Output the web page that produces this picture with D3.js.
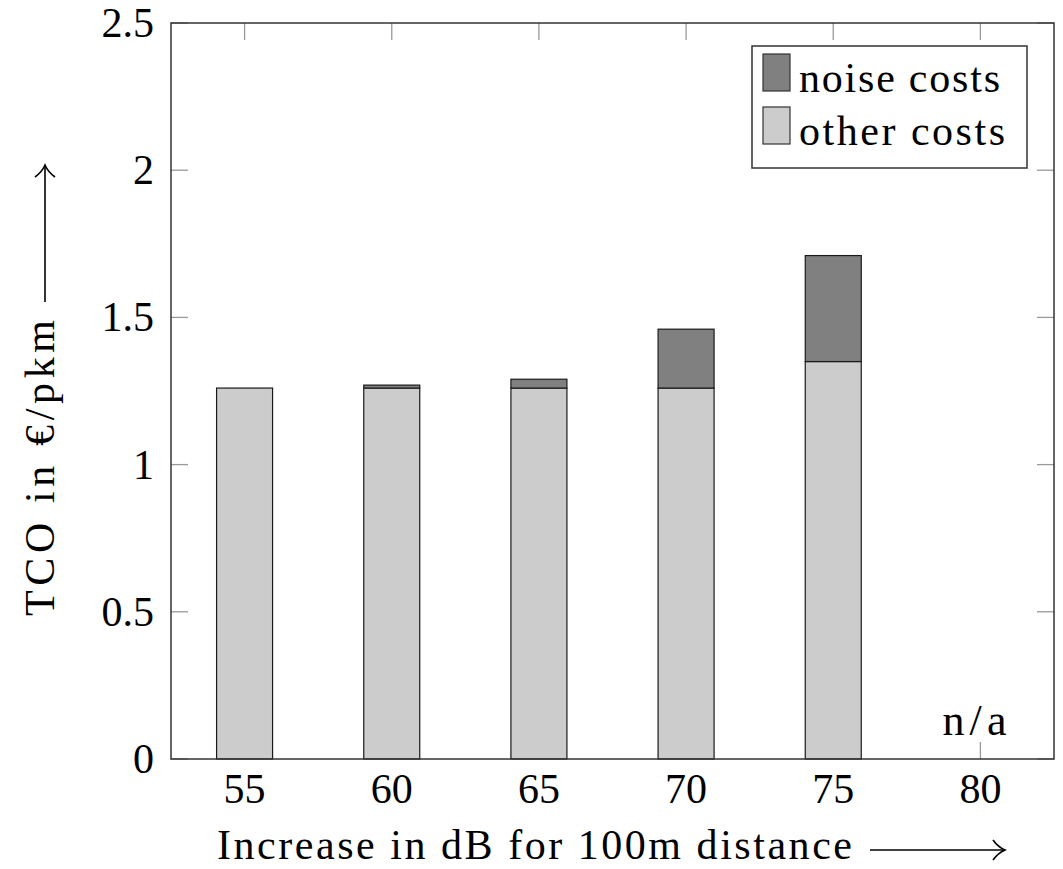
<!DOCTYPE html>
<html lang="en">
    <head>
        <meta charset="utf-8">
        <title>TCO noise costs</title>
        <style>
            body {
                margin: 0;
                background-color: white;
            }
            svg {
                display: block;
                font-family: "Liberation Serif", "DejaVu Serif", serif;
            }
        </style>
        <script src="https://d3js.org/d3.v7.min.js"></script>
    </head>
    <body></body>
    <script>

        // data
        let categories = [55, 60, 65, 70, 75, 80]
        let otherCosts = [1.26, 1.26, 1.26, 1.26, 1.35, null]
        let noiseCosts = [0, 0.01, 0.03, 0.2, 0.36, null]
        let yTicks = [0, 0.5, 1, 1.5, 2, 2.5]

        let width = 1063
        let height = 869
        let plotLeft = 171
        let plotRight = 1054
        let plotTop = 23
        let plotBottom = 759
        let barWidth = 56
        let fontSize = 42

        let svg = d3.select("body")
            .append("svg")
            .attr("width", width)
            .attr("height", height)

        let xScale = d3.scaleLinear()
            .domain([52.5, 82.5])
            .range([plotLeft, plotRight])

        let yScale = d3.scaleLinear()
            .domain([0, 2.5])
            .range([plotBottom, plotTop])

        // inward ticks on all four sides
        let tickLen = 17
        let ticks = svg.append("g")
            .attr("stroke", "#999")
            .attr("stroke-width", 1.3)

        ticks.selectAll("line.xb")
            .data(categories)
            .enter()
            .append("line")
            .attr("x1", (d) => xScale(d))
            .attr("x2", (d) => xScale(d))
            .attr("y1", plotBottom)
            .attr("y2", plotBottom - tickLen)

        ticks.selectAll("line.xt")
            .data(categories)
            .enter()
            .append("line")
            .attr("x1", (d) => xScale(d))
            .attr("x2", (d) => xScale(d))
            .attr("y1", plotTop)
            .attr("y2", plotTop + tickLen)

        ticks.selectAll("line.yl")
            .data(yTicks)
            .enter()
            .append("line")
            .attr("x1", plotLeft)
            .attr("x2", plotLeft + tickLen)
            .attr("y1", (d) => yScale(d))
            .attr("y2", (d) => yScale(d))

        ticks.selectAll("line.yr")
            .data(yTicks)
            .enter()
            .append("line")
            .attr("x1", plotRight)
            .attr("x2", plotRight - tickLen)
            .attr("y1", (d) => yScale(d))
            .attr("y2", (d) => yScale(d))

        // bars, drawn over the ticks
        let rows = categories.map((c, i) => ({cat: c, other: otherCosts[i], noise: noiseCosts[i]}))
            .filter((d) => d.other !== null)

        svg.selectAll("rect.other")
            .data(rows)
            .enter()
            .append("rect")
            .attr("class", "other")
            .attr("x", (d) => xScale(d.cat) - barWidth / 2)
            .attr("y", (d) => yScale(d.other))
            .attr("width", barWidth)
            .attr("height", (d) => yScale(0) - yScale(d.other))
            .attr("fill", "#cccccc")
            .attr("stroke", "#1a1a1a")
            .attr("stroke-width", 1.2)

        svg.selectAll("rect.noise")
            .data(rows.filter((d) => d.noise > 0))
            .enter()
            .append("rect")
            .attr("class", "noise")
            .attr("x", (d) => xScale(d.cat) - barWidth / 2)
            .attr("y", (d) => yScale(d.other + d.noise))
            .attr("width", barWidth)
            .attr("height", (d) => yScale(d.other) - yScale(d.other + d.noise))
            .attr("fill", "#808080")
            .attr("stroke", "#1a1a1a")
            .attr("stroke-width", 1.2)

        // frame
        svg.append("rect")
            .attr("x", plotLeft)
            .attr("y", plotTop)
            .attr("width", plotRight - plotLeft)
            .attr("height", plotBottom - plotTop)
            .attr("fill", "none")
            .attr("stroke", "#333")
            .attr("stroke-width", 1.5)

        // tick labels
        svg.selectAll("text.xtick")
            .data(categories)
            .enter()
            .append("text")
            .attr("class", "xtick")
            .attr("x", (d) => xScale(d))
            .attr("y", 803)
            .attr("text-anchor", "middle")
            .attr("font-size", fontSize)
            .text((d) => d)

        svg.selectAll("text.ytick")
            .data(yTicks)
            .enter()
            .append("text")
            .attr("class", "ytick")
            .attr("x", 154)
            .attr("y", (d) => yScale(d) + 14)
            .attr("text-anchor", "end")
            .attr("font-size", fontSize)
            .text((d) => d)

        // n/a label for 80
        svg.append("text")
            .attr("x", xScale(80) - 6)
            .attr("y", 735)
            .attr("text-anchor", "middle")
            .attr("font-size", 44)
            .attr("textLength", 64)
            .text("n/a")

        // axis titles with long arrows
        svg.append("text")
            .attr("x", 217)
            .attr("y", 859)
            .attr("font-size", fontSize)
            .attr("textLength", 635)
            .text("Increase in dB for 100m distance")

        let arrow = (g, x1, y1, x2, y2) => {
            g.append("line")
                .attr("x1", x1).attr("y1", y1)
                .attr("x2", x2).attr("y2", y2)
                .attr("stroke", "black")
                .attr("stroke-width", 1.6)
        }

        let xArrow = svg.append("g")
        arrow(xArrow, 870, 850, 1005, 850)
        xArrow.append("path")
            .attr("d", "M993,840 Q998,847 1005,850 Q998,853 993,860")
            .attr("fill", "none")
            .attr("stroke", "black")
            .attr("stroke-width", 1.6)

        svg.append("text")
            .attr("transform", "translate(54,616) rotate(-90)")
            .attr("font-size", fontSize)
            .attr("textLength", 296)
            .text("TCO in €/pkm")

        let yArrow = svg.append("g")
        arrow(yArrow, 45, 302, 45, 165)
        yArrow.append("path")
            .attr("d", "M35,177 Q42,172 45,165 Q48,172 55,177")
            .attr("fill", "none")
            .attr("stroke", "black")
            .attr("stroke-width", 1.6)

        // legend
        let legendItems = ["noise costs", "other costs"]
        let legendColors = ["#808080", "#cccccc"]

        let legend = svg.append("g")
            .attr("transform", "translate(752,46)")

        legend.append("rect")
            .attr("width", 275)
            .attr("height", 122)
            .attr("fill", "white")
            .attr("stroke", "#333")
            .attr("stroke-width", 1.5)

        legend.selectAll("rect.sw")
            .data(legendItems)
            .enter()
            .append("rect")
            .attr("class", "sw")
            .attr("x", 11)
            .attr("y", (d, i) => 8 + i * 53)
            .attr("width", 27)
            .attr("height", 37)
            .attr("fill", (d, i) => legendColors[i])
            .attr("stroke", "#333")
            .attr("stroke-width", 1.2)

        legend.selectAll("text")
            .data(legendItems)
            .enter()
            .append("text")
            .attr("x", 47)
            .attr("y", (d, i) => 46 + i * 53)
            .attr("font-size", fontSize)
            .attr("textLength", (d, i) => i == 0 ? 201 : 206)
            .text((d) => d)

    </script>
</html>
